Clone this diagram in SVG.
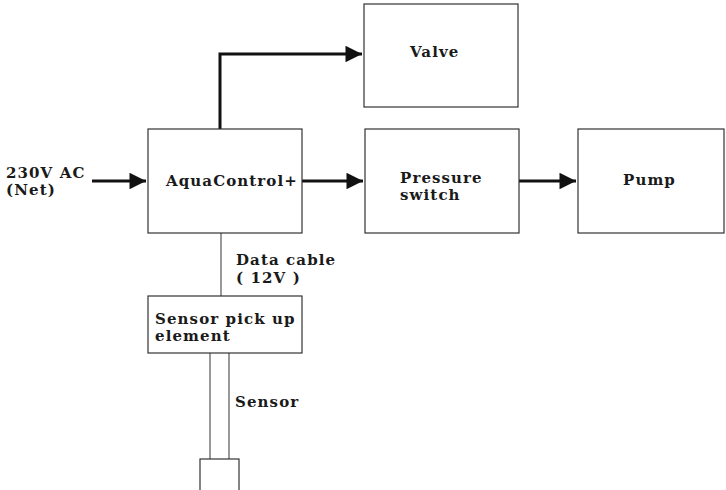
<svg xmlns="http://www.w3.org/2000/svg" width="726" height="490" viewBox="0 0 726 490">
<style>
.box{fill:#fff;stroke:#333;stroke-width:1.2}
.t{font-family:"DejaVu Serif","Liberation Serif",serif;font-weight:bold;font-size:15px;letter-spacing:1.1px;fill:#1a1a1a}
.thick{stroke:#111;stroke-width:3;fill:none}
.thin{stroke:#555;stroke-width:1.2;fill:none}
</style>
<defs>
<marker id="ah" viewBox="0 0 10 10" refX="10" refY="5" markerWidth="6.5" markerHeight="5.5" orient="auto" markerUnits="strokeWidth">
<path d="M0,0 L10,5 L0,10 z" fill="#111"/>
</marker>
</defs>
<rect width="726" height="490" fill="#fff"/>
<g id="connectors">
<path class="thick" d="M92,181 H146" marker-end="url(#ah)"/>
<path class="thick" d="M220,129 V54 H362" marker-end="url(#ah)"/>
<path class="thick" d="M302,181 H363" marker-end="url(#ah)"/>
<path class="thick" d="M519,181 H576" marker-end="url(#ah)"/>
<path class="thin" d="M221,233 V296"/>
<path class="thin" d="M210,353 V459 M229,353 V459"/>
</g>
<g id="input"><text class="t" x="6" y="178">230V AC</text><text class="t" x="6" y="195">(Net)</text></g>
<g id="aquacontrol"><rect class="box" x="148" y="129" width="154" height="104"/><text class="t" x="166" y="186">AquaControl+</text></g>
<g id="valve"><rect class="box" x="364" y="4" width="154" height="103"/><text class="t" x="410" y="57">Valve</text></g>
<g id="pressure"><rect class="box" x="365" y="129" width="154" height="104"/><text class="t" x="400" y="183">Pressure</text><text class="t" x="400" y="200">switch</text></g>
<g id="pump"><rect class="box" x="578" y="129" width="146" height="104"/><text class="t" x="623" y="185">Pump</text></g>
<g id="datacable"><text class="t" x="236" y="265">Data cable</text><text class="t" x="236" y="283">( 12V )</text></g>
<g id="pickup"><rect class="box" x="148" y="296" width="154" height="57"/><text class="t" x="155" y="324">Sensor pick up</text><text class="t" x="155" y="341">element</text></g>
<g id="sensor"><text class="t" x="235" y="407">Sensor</text><rect class="box" x="200" y="459" width="39" height="40"/></g>
</svg>
